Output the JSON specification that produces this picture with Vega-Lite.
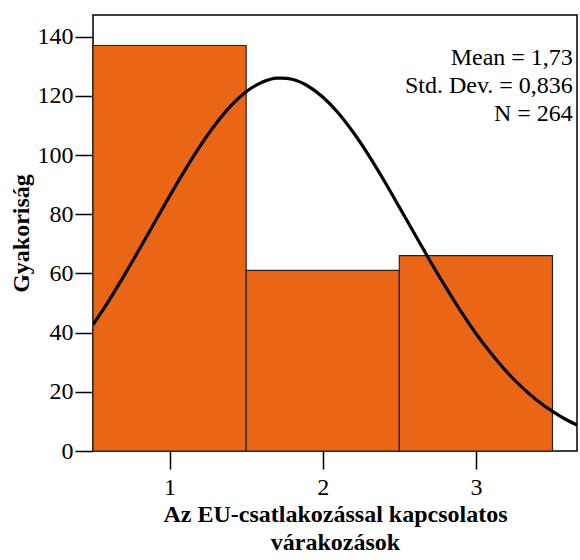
{
  "$schema": "https://vega.github.io/schema/vega-lite/v6.json",
  "width": 484,
  "height": 436,
  "autosize": {"type": "none"},
  "padding": {"left": 93, "top": 15, "right": 3, "bottom": 109},
  "background": "white",
  "config": {
    "view": {"stroke": "black", "strokeWidth": 1.5},
    "font": "Times New Roman, Liberation Serif, DejaVu Serif, serif",
    "axis": {
      "grid": false,
      "domain": false,
      "tickColor": "black",
      "tickWidth": 1.5,
      "tickSize": 18,
      "labelFont": "Times New Roman, Liberation Serif, DejaVu Serif, serif",
      "labelFontSize": 24,
      "labelColor": "black",
      "titleFont": "Times New Roman, Liberation Serif, DejaVu Serif, serif",
      "titleFontSize": 24,
      "titleFontWeight": "bold",
      "titleColor": "black"
    }
  },
  "datasets": {
    "bars": [
      {"bin_start": 0.5, "bin_end": 1.5, "count": 137},
      {"bin_start": 1.5, "bin_end": 2.5, "count": 61},
      {"bin_start": 2.5, "bin_end": 3.5, "count": 66}
    ],
    "curve": [
      {"x": 0.5, "y": 42.7},
      {"x": 0.6, "y": 50.5},
      {"x": 0.7, "y": 59.0},
      {"x": 0.8, "y": 67.9},
      {"x": 0.9, "y": 77.0},
      {"x": 1.0, "y": 86.1},
      {"x": 1.1, "y": 94.9},
      {"x": 1.2, "y": 103.1},
      {"x": 1.3, "y": 110.4},
      {"x": 1.4, "y": 116.6},
      {"x": 1.5, "y": 121.4},
      {"x": 1.6, "y": 124.5},
      {"x": 1.7, "y": 126.0},
      {"x": 1.73, "y": 126.0},
      {"x": 1.8, "y": 125.6},
      {"x": 1.9, "y": 123.4},
      {"x": 2.0, "y": 119.6},
      {"x": 2.1, "y": 114.3},
      {"x": 2.2, "y": 107.6},
      {"x": 2.3, "y": 99.9},
      {"x": 2.4, "y": 91.4},
      {"x": 2.5, "y": 82.4},
      {"x": 2.6, "y": 73.3},
      {"x": 2.7, "y": 64.3},
      {"x": 2.8, "y": 55.6},
      {"x": 2.9, "y": 47.3},
      {"x": 3.0, "y": 39.7},
      {"x": 3.1, "y": 32.9},
      {"x": 3.2, "y": 26.8},
      {"x": 3.3, "y": 21.6},
      {"x": 3.4, "y": 17.1},
      {"x": 3.5, "y": 13.4},
      {"x": 3.6, "y": 10.3},
      {"x": 3.66, "y": 8.8}
    ]
  },
  "layer": [
    {
      "data": {"name": "bars"},
      "mark": {"type": "bar", "fill": "#eb6517", "stroke": "#222222", "strokeWidth": 1.2, "orient": "vertical"},
      "encoding": {
        "x": {
          "field": "bin_start",
          "type": "quantitative",
          "scale": {"domain": [0.5, 3.66], "nice": false, "zero": false, "padding": 0},
          "axis": {
            "values": [1, 2, 3],
            "format": "d",
            "labelPadding": 6,
            "title": ["Az EU-csatlakozással kapcsolatos", "várakozások"],
            "titleLineHeight": 28,
            "titlePadding": 3
          }
        },
        "x2": {"field": "bin_end"},
        "y": {
          "field": "count",
          "type": "quantitative",
          "scale": {"domain": [0, 147.3], "nice": false, "padding": 0},
          "axis": {
            "values": [0, 20, 40, 60, 80, 100, 120, 140],
            "labelPadding": 2,
            "title": "Gyakoriság",
            "titlePadding": 4
          }
        },
        "y2": {"datum": 0}
      }
    },
    {
      "data": {"name": "curve"},
      "mark": {"type": "line", "color": "black", "strokeWidth": 3.2, "interpolate": "monotone", "clip": true},
      "encoding": {
        "x": {"field": "x", "type": "quantitative"},
        "y": {"field": "y", "type": "quantitative"}
      }
    },
    {
      "data": {"values": [{}]},
      "mark": {
        "type": "text",
        "align": "right",
        "baseline": "alphabetic",
        "font": "Times New Roman, Liberation Serif, DejaVu Serif, serif",
        "fontSize": 24,
        "lineHeight": 28,
        "lineBreak": "\n",
        "color": "black",
        "text": "Mean = 1,73\nStd. Dev. = 0,836\nN = 264"
      },
      "encoding": {
        "x": {"datum": 3.633, "type": "quantitative"},
        "y": {"datum": 130.4, "type": "quantitative"}
      }
    }
  ]
}
